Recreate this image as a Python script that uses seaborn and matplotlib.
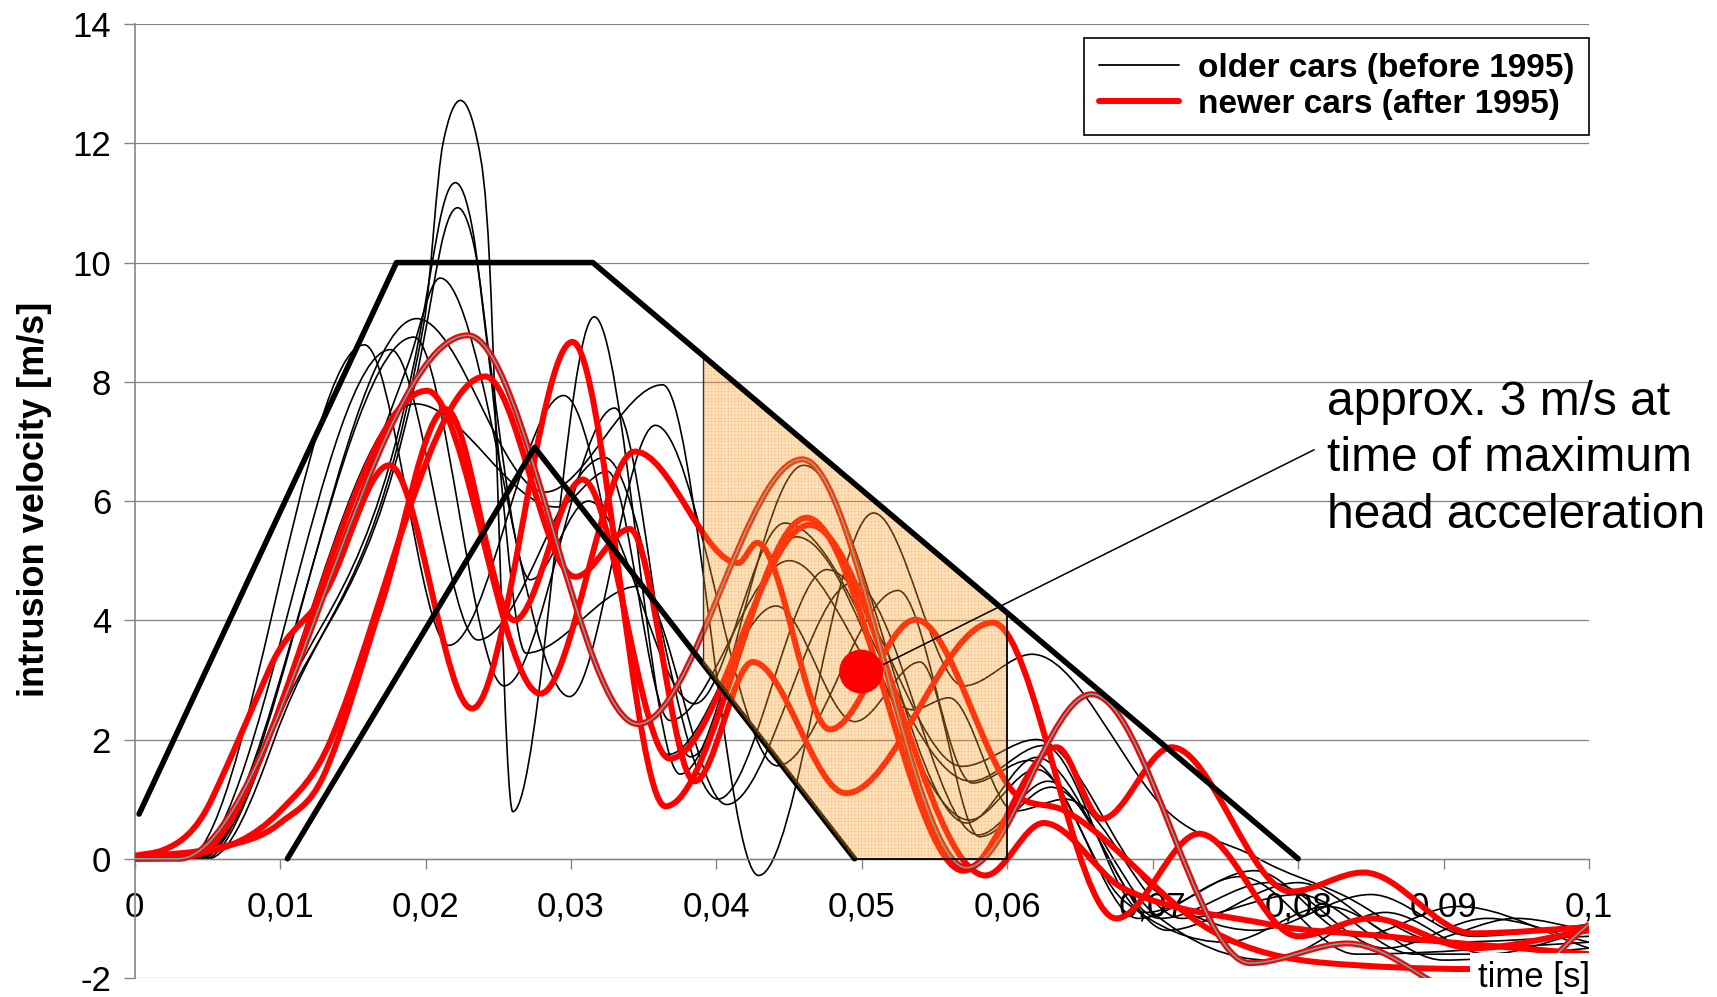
import numpy as np
import matplotlib
matplotlib.use("Agg")
import matplotlib.pyplot as plt
import seaborn as sns
import pandas as pd
from matplotlib.path import Path
from matplotlib.patches import PathPatch
from matplotlib.lines import Line2D

# ---------------- data (time in ms, intrusion velocity in m/s) ----------------
older_cars = [
    ([0, 3.5, 15.8, 21.6, 29.5, 36.7, 44.1, 49.5, 54.0, 58.1, 63.0, 70.0, 78.0, 86.0, 93.0, 100],
     [0, 0, 8.62, 3.58, 7.77, 1.75, 4.24, 2.3, 3.3, 0.37, 1.2, -0.9, -1.7, -0.9, -1.6, -1.2]),
    ([0, 3.8, 17.6, 23.6, 32.3, 40.1, 47.6, 56.9, 62.0, 70.0, 77.0, 85.0, 92.0, 100],
     [0, 0, 8.54, 3.67, 6.73, 1.0, 4.85, 1.55, 2.0, -0.5, -1.2, -0.6, -1.3, -1.1]),
    ([0, 4.0, 19.2, 25.4, 33.0, 38.2, 45.5, 57.4, 62.0, 69.0, 76.0, 84.0, 100],
     [0, 0, 8.75, 2.9, 7.56, 1.71, 5.4, 0.65, 1.5, -1.0, -0.3, -1.6, -1.4]),
    ([0, 4.2, 19.4, 28.2, 36.3, 42.9, 50.8, 57.0, 61.7, 70.4, 77.3, 83.0, 90.0, 100],
     [0, 0, 9.06, 6.15, 7.95, -0.28, 5.8, 2.9, 3.43, 0.95, 0.0, -0.6, -1.4, -1.3]),
    ([0, 4.0, 19.3, 29.0, 32.5, 36.8, 45.0, 53.5, 56.0, 60.5, 64.0, 72.0, 80.0, 88.0, 100],
     [0, 0, 7.63, 5.9, 6.5, 2.32, 5.0, 2.5, 2.7, 0.8, 1.0, -1.0, -0.6, -1.6, -1.6]),
    ([0, 4.5, 9.5, 18.8, 21.0, 29.9, 35.8, 44.2, 52.5, 57.6, 61.5, 68.0, 75.0, 82.0, 90.0, 100],
     [0, 0, 2.2, 8.3, 9.74, 2.72, 7.27, 1.56, 4.5, 1.27, 1.65, -0.7, -1.4, -0.8, -1.7, -1.5]),
    ([0, 4.5, 9.0, 19.6, 20.9, 22.05, 23.2, 24.3, 26.9, 34.6, 40.7, 49.4, 58.0, 62.8, 71.0, 80.0, 88.0, 95.0, 100],
     [0, 0, 2.0, 8.8, 10.6, 11.34, 10.6, 8.5, 3.45, 4.57, 0.91, 4.63, 0.4, 1.3, -1.2, -0.4, -1.4, -1.0, -1.2]),
    ([0, 4.8, 9.3, 19.8, 21.0, 22.2, 23.4, 24.4, 27.2, 31.2, 38.5, 44.7, 57.5, 62.5, 69.5, 77.0, 84.0, 91.0, 100],
     [0, 0, 2.0, 8.6, 10.2, 10.92, 10.2, 8.4, 4.68, 6.0, 2.6, 5.63, 1.3, 1.9, -0.9, -0.2, -1.3, -0.8, -1.5]),
    ([0, 5.0, 9.6, 19.9, 21.2, 22.4, 23.6, 24.4, 26.0, 31.6, 37.5, 46.0, 57.2, 62.0, 70.5, 78.0, 86.0, 93.0, 100],
     [0, 0, 2.0, 9.0, 12.0, 12.72, 12.0, 10.0, 0.79, 9.09, 1.42, 6.6, 0.6, 1.7, -1.0, -0.4, -1.5, -1.0, -1.4]),
]

newer_cars = [
    ([0, 2.0, 5.3, 9.3, 13.4, 17.5, 23.2, 30.1, 36.5, 46.2, 57.0, 63.4, 66.5, 71.3, 79.5, 84.5, 92.0, 100],
     [0.05, 0.15, 1.0, 3.2, 4.6, 6.6, 2.52, 8.67, 0.88, 5.72, -0.2, 1.87, 0.67, 1.87, -0.55, -0.23, -1.25, -1.15]),
    ([0, 4.0, 20.1, 27.9, 34.4, 41.5, 42.8, 47.8, 53.7, 61.0, 64.0, 74.0, 82.0, 92.0, 100],
     [0, 0.05, 7.85, 2.77, 6.83, 4.96, 5.3, 2.17, 4.01, 1.0, 0.8, -1.2, -1.75, -1.85, -1.7]),
    ([0, 6.0, 10.0, 13.0, 17.0, 21.4, 26.1, 30.8, 36.8, 46.4, 58.5, 62.5, 68.0, 78.0, 86.0, 100],
     [0.02, 0.2, 0.6, 1.4, 4.3, 7.54, 4.0, 6.36, 1.68, 5.6, -0.28, 0.6, -0.5, -1.1, -1.3, -1.6]),
    ([0, 4.5, 10.0, 13.5, 24.1, 30.3, 34.05, 38.5, 42.5, 48.9, 59.0, 67.5, 73.2, 80.0, 85.0, 92.0, 100],
     [0.02, 0.1, 0.8, 2.0, 8.09, 4.73, 5.53, 1.3, 3.3, 1.1, 3.96, -1.0, 0.42, -1.3, -1.0, -1.5, -1.2]),
]

newer_highlight_t = [0, 3.0, 22.9, 34.6, 45.9, 57.2, 65.8, 76.7, 83.4, 93.0, 100]
newer_highlight_v = [0, 0, 8.78, 2.26, 6.70, -0.15, 2.76, -1.75, -1.42, -2.4, -1.1]

upper_corridor_t = [0.0003, 0.018, 0.0315, 0.080]
upper_corridor_v = [0.75, 10.0, 10.0, 0.0]
lower_corridor_t = [0.0105, 0.0275, 0.0495]
lower_corridor_v = [0.0, 6.9, 0.0]

shade_window = [0.0391, 0.0600]
hic_t, hic_v = 0.04995, 3.14
annot_line_t = [0.0515, 0.0811]
annot_line_v = [3.26, 6.86]
annot_lines = ["approx. 3 m/s at", "time of maximum", "head acceleration"]
annot_v = [7.66, 6.71, 5.75]

x_ticks = [0, 0.01, 0.02, 0.03, 0.04, 0.05, 0.06, 0.07, 0.08, 0.09, 0.1]
x_tick_labels = ["0", "0,01", "0,02", "0,03", "0,04", "0,05", "0,06", "0,07", "0,08", "0,09", "0,1"]
y_ticks = [-2, 0, 2, 4, 6, 8, 10, 12, 14]
legend_labels = ["older cars (before 1995)", "newer cars (after 1995)"]

# ---------------- style ----------------
sns.set_theme(style="white")
plt.rcParams["font.family"] = ["Liberation Sans", "DejaVu Sans"]
plt.rcParams["hatch.linewidth"] = 0.35
plt.rcParams["axes.unicode_minus"] = False
for key in ["text.color", "axes.labelcolor", "xtick.labelcolor", "ytick.labelcolor"]:
    plt.rcParams[key] = "black"

GRAY = "#858585"
RED = "#FF0000"


def smooth_path(t_ms, v):
    """Smoothed (Excel-like) cubic Bezier path through the points."""
    x = np.asarray(t_ms, float) / 1000.0
    y = np.asarray(v, float)
    h = np.diff(x)
    d = np.diff(y) / h
    n = len(x)
    m = np.zeros(n)
    for k in range(1, n - 1):
        if d[k - 1] * d[k] > 0:
            a, b = abs(d[k - 1]), abs(d[k])
            m[k] = np.sign(d[k]) * min(max(a, b), 2.0 * min(a, b))
    m[0] = 0.0 if abs(d[0]) < 1e-9 or y[0] == 0 else d[0]
    m[-1] = d[-1]
    verts = [(x[0], y[0])]
    codes = [Path.MOVETO]
    for k in range(n - 1):
        verts += [(x[k] + h[k] / 3, y[k] + m[k] * h[k] / 3),
                  (x[k + 1] - h[k] / 3, y[k + 1] - m[k + 1] * h[k] / 3),
                  (x[k + 1], y[k + 1])]
        codes += [Path.CURVE4] * 3
    return Path(verts, codes)


fig = plt.figure(figsize=(17.17, 9.97), dpi=100)
ax = fig.add_axes([0.07845, 0.01906, 0.8470, 0.95677])
ax.set_xlim(0, 0.1)
ax.set_ylim(-2, 14)

# grid & axes
ax.set_yticks(y_ticks)
ax.set_xticks(x_ticks, labels=x_tick_labels)
ax.yaxis.grid(True, color=GRAY, lw=0.9, zorder=0.5)
ax.xaxis.grid(False)
for s in ["top", "right"]:
    ax.spines[s].set_visible(False)
ax.spines["bottom"].set_position(("data", 0))
ax.spines["bottom"].set_color(GRAY)
ax.spines["left"].set_color(GRAY)
ax.spines["left"].set_linewidth(1.2)
ax.spines["bottom"].set_linewidth(1.0)
ax.tick_params(axis="x", direction="out", length=7, width=1, color=GRAY,
               labelsize=25, pad=16, bottom=True, labelcolor="black")
ax.tick_params(axis="y", direction="out", length=8, width=1, color=GRAY,
               labelsize=25, pad=9, left=True, labelcolor="black")
ax.set_axisbelow(True)

# older cars - thin black
for t, v in older_cars:
    ax.add_patch(PathPatch(smooth_path(t, v), fill=False, edgecolor="black",
                           lw=1.2, zorder=2, joinstyle="round", capstyle="round"))
# newer cars - thick red
for t, v in newer_cars:
    ax.add_patch(PathPatch(smooth_path(t, v), fill=False, edgecolor=RED,
                           lw=4.3, zorder=3, joinstyle="round", capstyle="round"))
hp = smooth_path(newer_highlight_t, newer_highlight_v)
ax.add_patch(PathPatch(hp, fill=False, edgecolor=RED, lw=4.3, zorder=3.1))
ax.add_patch(PathPatch(hp, fill=False, edgecolor="#45BCBC", lw=1.1, zorder=3.2))

# corridor lines
sns.lineplot(x=lower_corridor_t, y=lower_corridor_v, sort=False, color="black",
             lw=4.0, ax=ax, zorder=3.5, legend=False)
sns.lineplot(x=upper_corridor_t, y=upper_corridor_v, sort=False, color="black",
             lw=4.0, ax=ax, zorder=5, legend=False)

# shaded window between corridors
xs = np.array([shade_window[0], lower_corridor_t[-1], shade_window[1]])
up = np.interp(xs, upper_corridor_t, upper_corridor_v)
lo = np.interp(xs, lower_corridor_t, lower_corridor_v)
ax.fill_between(xs, lo, up, facecolor="#FFA530", alpha=0.30, hatch="+++++",
                edgecolor="#E88000", linewidth=0, zorder=4)
ax.plot([shade_window[0], shade_window[0]], [lo[0], up[0]], color="#333333", lw=1.0, zorder=4.1)
ax.plot([lower_corridor_t[-1], shade_window[1], shade_window[1]], [0, 0, up[-1]],
        color="black", lw=1.3, zorder=4.1)

# point of maximum head acceleration + annotation
sns.scatterplot(x=[hic_t], y=[hic_v], s=1000, color=RED, edgecolor="none",
                ax=ax, zorder=6, legend=False)
ax.plot(annot_line_t, annot_line_v, color="black", lw=1.1, zorder=6)
for txt, yv in zip(annot_lines, annot_v):
    ax.text(0.0820, yv, txt, fontsize=34.5, va="center", ha="left", clip_on=False,
            zorder=7, color="black")

# axis titles
fig.text(34 / 1717, 1 - 499 / 997, "intrusion velocity [m/s]", rotation=90,
         ha="center", va="center", fontsize=26, fontweight="bold", color="black")
ax.text(0.0924, -2.0, "time [s]", fontsize=25, ha="left", va="center", clip_on=False,
        zorder=8, color="black", bbox=dict(boxstyle="square,pad=0.25", fc="white", ec="none"))

# legend
handles = [Line2D([], [], color="black", lw=1.3), Line2D([], [], color=RED, lw=4.3)]
leg = ax.legend(handles, legend_labels, loc="upper right", bbox_to_anchor=(1.0, 0.9853),
                borderaxespad=0, frameon=True, fancybox=False, framealpha=1,
                edgecolor="black", handlelength=2.4, handletextpad=0.55,
                borderpad=0.45, labelspacing=0.15,
                prop=dict(family=["Liberation Sans", "DejaVu Sans"], weight="bold", size=24))
leg.get_frame().set_linewidth(1.2)
for txt in leg.get_texts():
    txt.set_color("black")
leg.set_zorder(10)

fig.savefig("out.png", dpi=100)
